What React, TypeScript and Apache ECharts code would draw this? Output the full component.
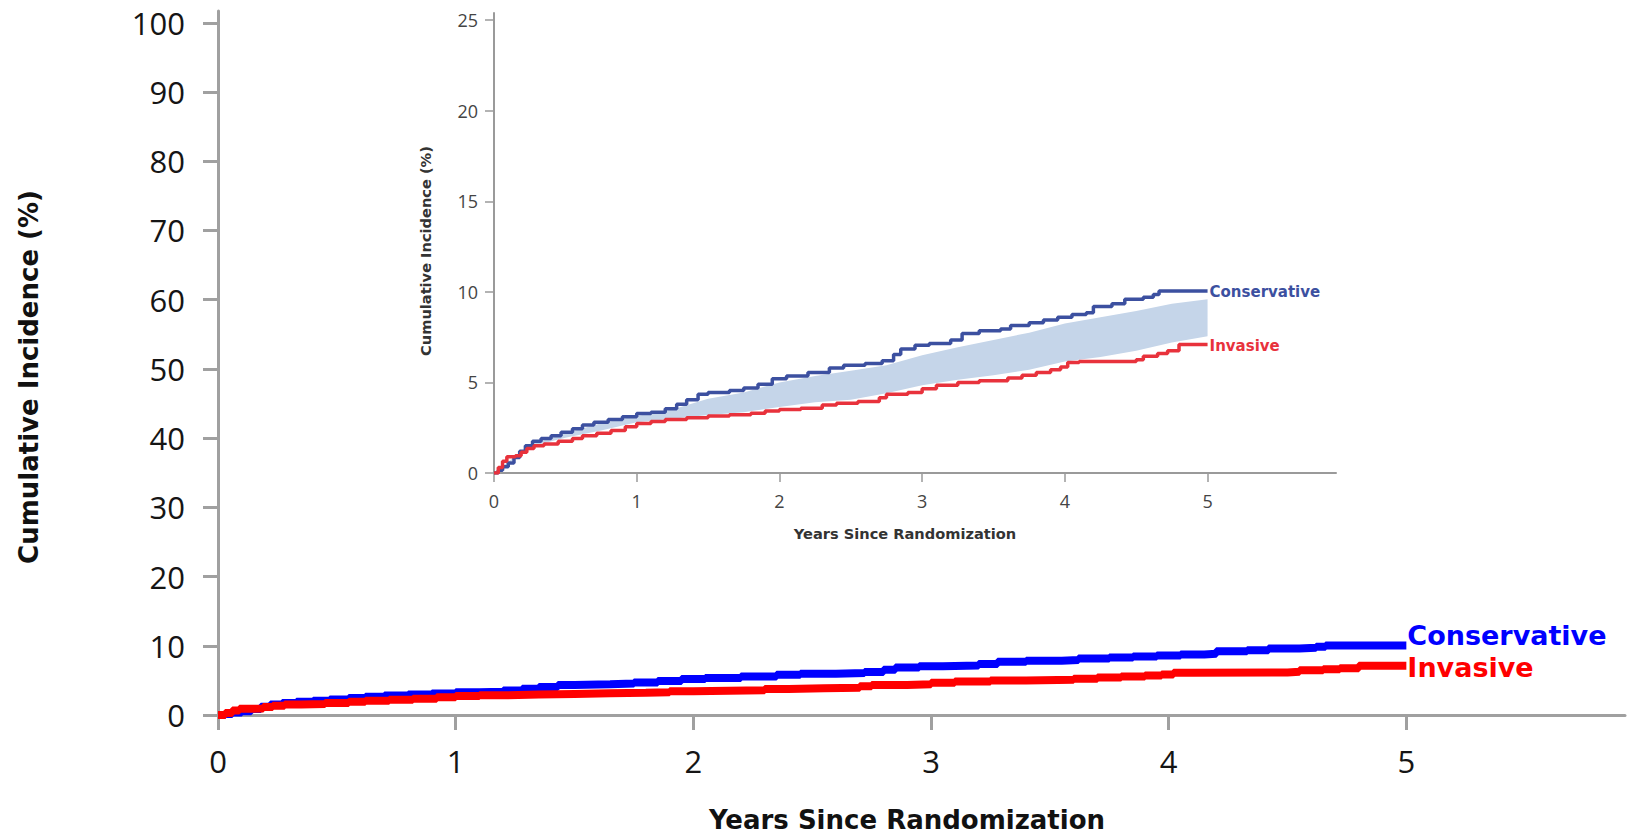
import React, { useEffect, useRef } from "react";
import * as echarts from "echarts";

// Cumulative incidence, Conservative arm: [years, %]
const conservativeYears = [0, 0.03, 0.06, 0.1, 0.14, 0.18, 0.22, 0.27, 0.33, 0.4, 0.47, 0.55, 0.62, 0.7, 0.8, 0.9, 1.0, 1.1, 1.2, 1.28, 1.35, 1.43, 1.5, 1.65, 1.75, 1.85, 1.95, 2.05, 2.2, 2.35, 2.45, 2.6, 2.72, 2.8, 2.85, 2.95, 3.05, 3.2, 3.28, 3.4, 3.55, 3.62, 3.75, 3.85, 3.95, 4.05, 4.15, 4.2, 4.33, 4.42, 4.55, 4.62, 4.66, 5.0];
const conservativeValues = [0, 0.15, 0.35, 0.55, 0.85, 1.2, 1.5, 1.75, 1.9, 2.05, 2.25, 2.45, 2.65, 2.8, 2.95, 3.1, 3.28, 3.35, 3.55, 3.8, 4.05, 4.35, 4.45, 4.55, 4.7, 4.9, 5.2, 5.35, 5.55, 5.8, 5.95, 6.05, 6.2, 6.55, 6.85, 7.05, 7.15, 7.35, 7.7, 7.85, 7.95, 8.15, 8.3, 8.45, 8.6, 8.75, 8.85, 9.2, 9.35, 9.6, 9.7, 9.85, 10.05, 10.05];

// Cumulative incidence, Invasive arm: [years, %]
const invasiveYears = [0, 0.03, 0.06, 0.09, 0.15, 0.19, 0.23, 0.28, 0.35, 0.45, 0.55, 0.62, 0.72, 0.82, 0.92, 1.0, 1.1, 1.2, 1.35, 1.5, 1.65, 1.8, 1.9, 2.0, 2.15, 2.3, 2.4, 2.55, 2.7, 2.75, 2.9, 3.0, 3.1, 3.25, 3.4, 3.6, 3.7, 3.8, 3.9, 3.97, 4.02, 4.1, 4.5, 4.55, 4.65, 4.72, 4.8, 5.0];
const invasiveValues = [0, 0.3, 0.65, 0.9, 0.95, 1.15, 1.35, 1.5, 1.6, 1.75, 1.9, 2.05, 2.2, 2.35, 2.55, 2.73, 2.85, 2.95, 3.05, 3.15, 3.22, 3.3, 3.42, 3.5, 3.58, 3.75, 3.85, 3.95, 4.15, 4.35, 4.45, 4.65, 4.85, 5.0, 5.1, 5.25, 5.4, 5.55, 5.7, 5.85, 6.1, 6.15, 6.25, 6.45, 6.6, 6.75, 7.1, 7.1];

// Shaded band in the inset
const bandYears = [0.05, 0.25, 0.5, 0.75, 1.0, 1.25, 1.5, 1.75, 2.0, 2.25, 2.5, 2.75, 3.0, 3.25, 3.5, 3.75, 4.0, 4.25, 4.5, 4.75, 5.0];
const bandLower = [0.2, 1.45, 1.95, 2.35, 2.8, 3.0, 3.2, 3.35, 3.65, 3.9, 4.05, 4.4, 4.85, 5.15, 5.4, 5.7, 6.15, 6.4, 6.75, 7.2, 7.55];
const bandUpper = [0.3, 1.55, 2.2, 2.75, 3.15, 3.5, 4.1, 4.45, 5.0, 5.35, 5.65, 5.95, 6.5, 6.95, 7.35, 7.75, 8.25, 8.6, 8.95, 9.35, 9.6];

// Tick labels
const mainXTicks = [0, 1, 2, 3, 4, 5];
const mainYTicks = [0, 10, 20, 30, 40, 50, 60, 70, 80, 90, 100];
const insetXTicks = [0, 1, 2, 3, 4, 5];
const insetYTicks = [0, 5, 10, 15, 20, 25];

const seriesNames = ["Conservative", "Invasive"];
const xTitle = "Years Since Randomization";
const yTitle = "Cumulative Incidence (%)";

const pair = (xs: number[], ys: number[]) => xs.map((x, i) => [x, ys[i]]);

export default function App() {
  const ref = useRef<HTMLDivElement>(null);

  useEffect(() => {
    if (!ref.current) return;
    const chart = echarts.init(ref.current, null, { renderer: "svg" });

    const mainAxisLine = { show: true, onZero: false, lineStyle: { color: "#a0a0a0", width: 3 } };
    const insetAxisLine = { show: true, onZero: false, lineStyle: { color: "#9a9a9a", width: 2 } };
    const mainLabel = { fontSize: 31, color: "#151515", fontFamily: "Open Sans" };
    const insetLabel = { fontSize: 18, color: "#444", fontFamily: "Open Sans" };

    const option: any = {
      animation: false,
      backgroundColor: "#ffffff",
      grid: [
        { left: 218, right: 10, top: 11, bottom: 120, outerBoundsMode: "none" },
        { left: 494, right: 299, top: 13, bottom: 362, outerBoundsMode: "none" },
      ],
      xAxis: [
        {
          type: "value", gridIndex: 0, min: 0, max: 5.92,
          axisLine: mainAxisLine,
          axisTick: { show: true, length: 15, customValues: mainXTicks, lineStyle: { color: "#a0a0a0", width: 3 } },
          axisLabel: { ...mainLabel, margin: 30, customValues: mainXTicks },
          splitLine: { show: false },
        },
        {
          type: "value", gridIndex: 1, min: 0, max: 5.9,
          axisLine: insetAxisLine,
          axisTick: { show: true, length: 9, customValues: insetXTicks, lineStyle: { color: "#9a9a9a", width: 1.5 } },
          axisLabel: { ...insetLabel, margin: 19, customValues: insetXTicks },
          splitLine: { show: false },
        },
      ],
      yAxis: [
        {
          type: "value", gridIndex: 0, min: 0, max: 101.7,
          axisLine: mainAxisLine,
          axisTick: { show: true, length: 15, customValues: mainYTicks, lineStyle: { color: "#a0a0a0", width: 3 } },
          axisLabel: { ...mainLabel, margin: 33, customValues: mainYTicks },
          splitLine: { show: false },
        },
        {
          type: "value", gridIndex: 1, min: 0, max: 25.4,
          axisLine: insetAxisLine,
          axisTick: { show: true, length: 9, customValues: insetYTicks, lineStyle: { color: "#9a9a9a", width: 1.5 } },
          axisLabel: { ...insetLabel, margin: 16, customValues: insetYTicks },
          splitLine: { show: false },
        },
      ],
      graphic: [
        {
          type: "text", x: 907, y: 820,
          style: { text: xTitle, fontSize: 26, fontWeight: "bold", fontFamily: "DejaVu Sans", fill: "#111", align: "center", verticalAlign: "middle" },
        },
        {
          type: "text", x: 29, y: 377, rotation: Math.PI / 2,
          style: { text: yTitle, fontSize: 26, fontWeight: "bold", fontFamily: "DejaVu Sans", fill: "#111", align: "center", verticalAlign: "middle" },
        },
        {
          type: "text", x: 905, y: 533,
          style: { text: xTitle, fontSize: 14.6, fontWeight: "bold", fontFamily: "DejaVu Sans", fill: "#333", align: "center", verticalAlign: "middle" },
        },
        {
          type: "text", x: 425, y: 251, rotation: Math.PI / 2,
          style: { text: yTitle, fontSize: 14.6, fontWeight: "bold", fontFamily: "DejaVu Sans", fill: "#333", align: "center", verticalAlign: "middle" },
        },
      ],
      series: [
        {
          name: seriesNames[0], type: "line", xAxisIndex: 0, yAxisIndex: 0, step: "end",
          data: pair(conservativeYears, conservativeValues), symbol: "none",
          lineStyle: { color: "#0000ff", width: 8 }, z: 3,
          endLabel: { show: true, formatter: "{a}", color: "#0000ff", fontSize: 27, fontWeight: "bold", fontFamily: "DejaVu Sans", distance: 1, offset: [0, -10] },
        },
        {
          name: seriesNames[1], type: "line", xAxisIndex: 0, yAxisIndex: 0, step: "end",
          data: pair(invasiveYears, invasiveValues), symbol: "none",
          lineStyle: { color: "#ff0000", width: 8 }, z: 4,
          endLabel: { show: true, formatter: "{a}", color: "#ff0000", fontSize: 27, fontWeight: "bold", fontFamily: "DejaVu Sans", distance: 1, offset: [0, 2] },
        },
        {
          name: "band", type: "custom", xAxisIndex: 1, yAxisIndex: 1, silent: true, z: 2,
          data: [[bandYears[0], bandLower[0]]],
          renderItem: (_params: any, api: any) => {
            const pts: number[][] = [];
            for (let i = 0; i < bandYears.length; i++) pts.push(api.coord([bandYears[i], bandUpper[i]]));
            for (let i = bandYears.length - 1; i >= 0; i--) pts.push(api.coord([bandYears[i], bandLower[i]]));
            return { type: "polygon", shape: { points: pts }, style: { fill: "#c5d5e9" } };
          },
        },
        {
          name: seriesNames[0], type: "line", xAxisIndex: 1, yAxisIndex: 1, step: "end",
          data: pair(conservativeYears, conservativeValues), symbol: "none",
          lineStyle: { color: "#3c50a0", width: 3.5 }, z: 3,
          endLabel: { show: true, formatter: "{a}", color: "#3c50a0", fontSize: 15, fontWeight: "bold", fontFamily: "DejaVu Sans", distance: 2, offset: [0, 1] },
        },
        {
          name: seriesNames[1], type: "line", xAxisIndex: 1, yAxisIndex: 1, step: "end",
          data: pair(invasiveYears, invasiveValues), symbol: "none",
          lineStyle: { color: "#e8323c", width: 3.5 }, z: 4,
          endLabel: { show: true, formatter: "{a}", color: "#e8323c", fontSize: 15, fontWeight: "bold", fontFamily: "DejaVu Sans", distance: 2, offset: [0, 2] },
        },
      ],
    };

    chart.setOption(option);
    return () => chart.dispose();
  }, []);

  return (
    <div
      ref={ref}
      style={{ position: "absolute", left: 0, top: 0, width: 1635, height: 835, background: "#fff" }}
    />
  );
}
